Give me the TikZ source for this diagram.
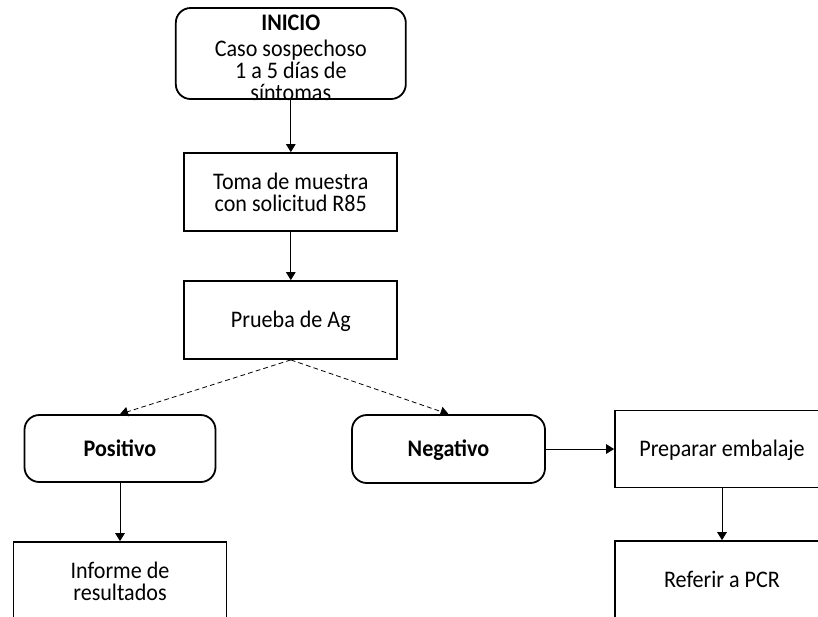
\documentclass[tikz,border=0pt]{standalone}
\usepackage{fontspec}
\setmainfont{Carlito}[FakeStretch=0.93]
\usetikzlibrary{arrows.meta}
\setlength{\lineskiplimit}{-20pt}
\begin{document}
\begin{tikzpicture}[
        texto/.style={align=center,inner sep=0pt,font=\fontsize{16.9}{15.8}\selectfont},
        caja/.style={texto,draw,black,line width=0.45mm,rectangle},
        cajaredonda/.style={caja,rounded corners=3.7mm},
        unalinea/.style={text height=10.9pt,text depth=0pt},
        flecha/.style={-{Triangle[length=2mm,width=2.4mm]},black,line width=0.25mm},
        flechapunteada/.style={flecha,line width=0.2mm,dash pattern=on 1.2mm off 0.8mm}
    ]
        \useasboundingbox (0,0) rectangle (20.45,-15.4);
        
        \node[cajaredonda,minimum width=5.75cm,minimum height=2.275cm] at (7.27,-1.3375) (inicio){};
        \node[texto] at (7.27,-1.45) (textoinicio){\textbf{INICIO}\\[2.5pt]Caso sospechoso\\1 a 5 días de\\síntomas};
        \node[caja,minimum width=5.325cm,minimum height=1.95cm] at (7.27,-4.8) (toma){Toma de muestra\\con solicitud R85};
        \node[caja,unalinea,minimum width=5.325cm,minimum height=1.95cm] at (7.27,-8.0) (prueba){Prueba de Ag};
        \node[cajaredonda,unalinea,minimum width=4.775cm,minimum height=1.675cm] at (3.0,-11.2125) (positivo){\textbf{Positivo}};
        \node[cajaredonda,unalinea,minimum width=4.825cm,minimum height=1.7cm] at (11.2125,-11.225) (negativo){\textbf{Negativo}};
        \node[caja,unalinea,minimum width=5.35cm,minimum height=1.925cm] at (18.05,-11.225) (preparar){Preparar embalaje};
        \node[caja,minimum width=5.325cm,minimum height=1.95cm] at (3.0,-14.525) (informe){Informe de\\resultados};
        \node[caja,unalinea,minimum width=5.35cm,minimum height=1.95cm] at (18.05,-14.5) (referir){Referir a PCR};
        
        \draw[flecha] (inicio.south) -- (toma.north); %inicio-toma
        \draw[flecha] (toma.south) -- (prueba.north); %toma-prueba
        \draw[flechapunteada] (prueba.south) -- (positivo.north); %prueba-positivo
        \draw[flechapunteada] (prueba.south) -- (negativo.north); %prueba-negativo
        \draw[flecha] (positivo.south) -- (informe.north); %positivo-informe
        \draw[flecha] (negativo.east) -- (preparar.west); %negativo-preparar
        \draw[flecha] (preparar.south) -- (referir.north); %preparar-referir
    \end{tikzpicture}
\end{document}
